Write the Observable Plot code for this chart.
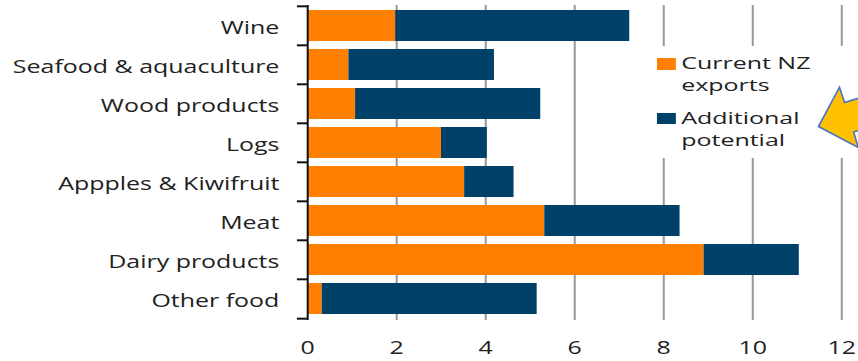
<!DOCTYPE html>
<html><head><meta charset="utf-8">
<script src="https://cdn.jsdelivr.net/npm/d3@7"></script>
<script src="https://cdn.jsdelivr.net/npm/@observablehq/plot@0.6"></script>
<style>
body{margin:0;background:#fff;overflow:hidden;position:relative;width:858px;height:361px}
#wrap{position:absolute;left:0;top:0;width:636px;height:361px;transform:scaleX(1.349);transform-origin:0 0;font-family:"Open Sans",sans-serif}
#legend{position:absolute;left:482px;top:46px;width:144px;height:112px;background:#fff;color:#222;font-size:16px;line-height:22px}
.sw{position:absolute;left:4.8px;width:14.3px;height:11.7px}
.lt{position:absolute;left:23.3px;white-space:nowrap;transform:scaleX(1.156);transform-origin:0 0}
.ln{display:block;height:22px;line-height:22px}
#arrow{position:absolute;left:0;top:0}
</style></head><body>
<div id="wrap"></div>
<svg id="arrow" width="858" height="361"><polygon points="818.5,126.5 858.2,147.4 853.7,132.1 930.1,108.3 920.9,78.7 844.5,102.5 839.5,87.2" fill="#ffc000" stroke="#4472c4" stroke-width="1.6" stroke-linejoin="miter"/></svg>
<script>
const categories = ["Wine","Seafood & aquaculture","Wood products","Logs","Appples & Kiwifruit","Meat","Dairy products","Other food"];
const seriesNames = ["Current NZ exports","Additional potential"];
const legendLines = [["Current NZ","exports"],["Additional","potential"]];
const seriesColors = ["#ff8000","#00416a"];
const currentExports = [1.98, 0.93, 1.08, 3.01, 3.53, 5.33, 8.91, 0.33];
const additionalPotential = [5.26, 3.27, 4.16, 1.03, 1.11, 3.04, 2.14, 4.83];
const xTicks = [0, 2, 4, 6, 8, 10, 12];

const data = categories.flatMap((c, i) => [
  {category: c, series: seriesNames[0], value: currentExports[i]},
  {category: c, series: seriesNames[1], value: additionalPotential[i]}
]);

const W = 636, H = 361, mt = 5, mb = 41, ml = 227.6, mr = 12.5;
const step = (H - mt - mb) / categories.length;
const font = 18.5;

const plot = Plot.plot({
  width: W, height: H,
  marginTop: mt, marginBottom: mb, marginLeft: ml, marginRight: mr,
  style: {fontFamily: '"Open Sans", sans-serif', fontSize: font + "px", color: "#222", background: "transparent", overflow: "visible"},
  x: {domain: [0, 12], label: null},
  y: {domain: categories, paddingInner: 0.2, paddingOuter: 0.1, label: null},
  color: {domain: seriesNames, range: seriesColors},
  marks: [
    Plot.gridX(xTicks.slice(1), {stroke: "#999", strokeOpacity: 1, strokeWidth: 1.5}),
    Plot.barX(data, Plot.stackX({x: "value", y: "category", fill: "series", order: null})),
    Plot.ruleX([0], {stroke: "#111", strokeWidth: 1.5}),
    Plot.axisY({tickSize: 0, tickPadding: 21, fontSize: font, fill: "#222", dy: 2.5, label: null}),
    Plot.axisY({tickSize: 7.5, fill: "none", dy: -step / 2, stroke: "#111", strokeWidth: 2, label: null}),
    Plot.axisY(categories.slice(-1), {tickSize: 7.5, fill: "none", dy: step / 2, stroke: "#111", strokeWidth: 2, label: null}),
    Plot.axisX(xTicks, {tickSize: 0, tickPadding: 20, fontSize: font, fill: "#222", label: null})
  ]
});

const wrap = document.getElementById("wrap");
wrap.appendChild(plot);

const legend = document.createElement("div");
legend.id = "legend";
const swTops = [12.3, 66.7];
const txTops = [6.1, 60.8];
seriesNames.forEach((s, i) => {
  const sw = document.createElement("div");
  sw.className = "sw";
  sw.style.top = swTops[i] + "px";
  sw.style.background = seriesColors[i];
  legend.appendChild(sw);
  const tx = document.createElement("div");
  tx.className = "lt";
  tx.style.top = txTops[i] + "px";
  legendLines[i].forEach(t => {
    const ln = document.createElement("span");
    ln.className = "ln";
    ln.textContent = t;
    tx.appendChild(ln);
  });
  legend.appendChild(tx);
});
wrap.appendChild(legend);
</script>
</body></html>
